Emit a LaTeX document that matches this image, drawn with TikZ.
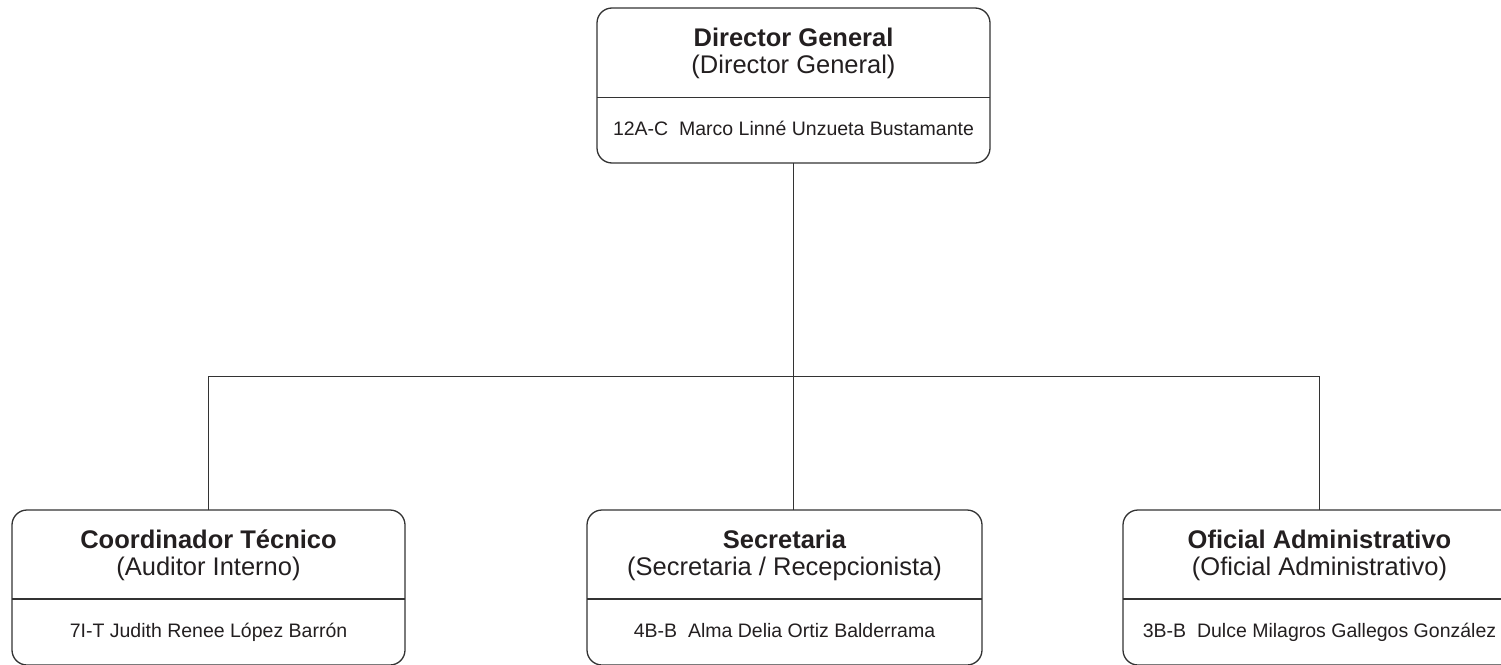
\documentclass[tikz,border=0pt]{standalone}
\usepackage{fontspec}
\setmainfont{Liberation Sans}
\definecolor{ink}{HTML}{231F20}
\definecolor{edge}{HTML}{333333}
\begin{document}
\begin{tikzpicture}[x=1pt,y=-1pt,
  box/.style={draw=edge, line width=1.3pt, rounded corners=15pt, minimum width=393pt, minimum height=155pt, inner sep=0pt, outer sep=0pt},
  titletxt/.style={anchor=base, inner sep=0pt, text=ink, font=\fontsize{25.5}{28}\selectfont\bfseries},
  subtxt/.style={anchor=base, inner sep=0pt, text=ink, font=\fontsize{25.5}{28}\selectfont},
  nametxt/.style={anchor=base, inner sep=0pt, text=ink, font=\fontsize{19.5}{22}\selectfont},
  divider/.style={draw=edge, line width=1.3pt},
  conn/.style={draw=edge, line width=1.3pt}]
\clip (0,0) rectangle (1501,664);
\useasboundingbox (0,0) rectangle (1501,664);
% boxes
\node[box] (dg) at (793.5,85.5) {};
\node[box] (ct) at (208.5,587.5) {};
\node[box, minimum width=395pt] (sec) at (784.5,587.5) {};
\node[box] (oa) at (1319.5,587.5) {};
% Director General
\node[titletxt] (dgt) at ([yshift=-38.7pt]dg.north) {Director General};
\node[subtxt] (dgs) at ([yshift=-65.4pt]dg.north) {(Director General)};
\draw[divider] ([yshift=-89.2pt]dg.north west) -- ([yshift=-89.2pt]dg.north east);
\node[nametxt] (dgn) at ([yshift=-127.5pt]dg.north) {12A-C\ \ Marco Linné Unzueta Bustamante};
% Coordinador
\node[titletxt] (ctt) at ([yshift=-38.5pt]ct.north) {Coordinador Técnico};
\node[subtxt] (cts) at ([yshift=-65.8pt]ct.north) {(Auditor Interno)};
\draw[divider] ([yshift=-89pt]ct.north west) -- ([yshift=-89pt]ct.north east);
\node[nametxt] (ctn) at ([yshift=-127.3pt]ct.north) {7I-T Judith Renee López Barrón};
% Secretaria
\node[titletxt] (sect) at ([yshift=-38.5pt]sec.north) {Secretaria};
\node[subtxt] (secs) at ([yshift=-65.8pt]sec.north) {(Secretaria / Recepcionista)};
\draw[divider] ([yshift=-89pt]sec.north west) -- ([yshift=-89pt]sec.north east);
\node[nametxt] (secn) at ([yshift=-127.3pt]sec.north) {4B-B\ \ Alma Delia Ortiz Balderrama};
% Oficial
\node[titletxt] (oat) at ([yshift=-38.5pt]oa.north) {Oficial Administrativo};
\node[subtxt] (oas) at ([yshift=-65.8pt]oa.north) {(Oficial Administrativo)};
\draw[divider] ([yshift=-89pt]oa.north west) -- ([yshift=-89pt]oa.north east);
\node[nametxt] (oan) at ([yshift=-127.3pt]oa.north) {3B-B\ \ Dulce Milagros Gallegos González};
% connectors
\coordinate (bus) at (793,376.5);
\draw[conn] (dg.south) -- (dg.south |- sec.north);
\draw[conn] (ct.north) -- (ct.north |- bus) -- (oa.north |- bus) -- (oa.north);
\end{tikzpicture}
\end{document}
